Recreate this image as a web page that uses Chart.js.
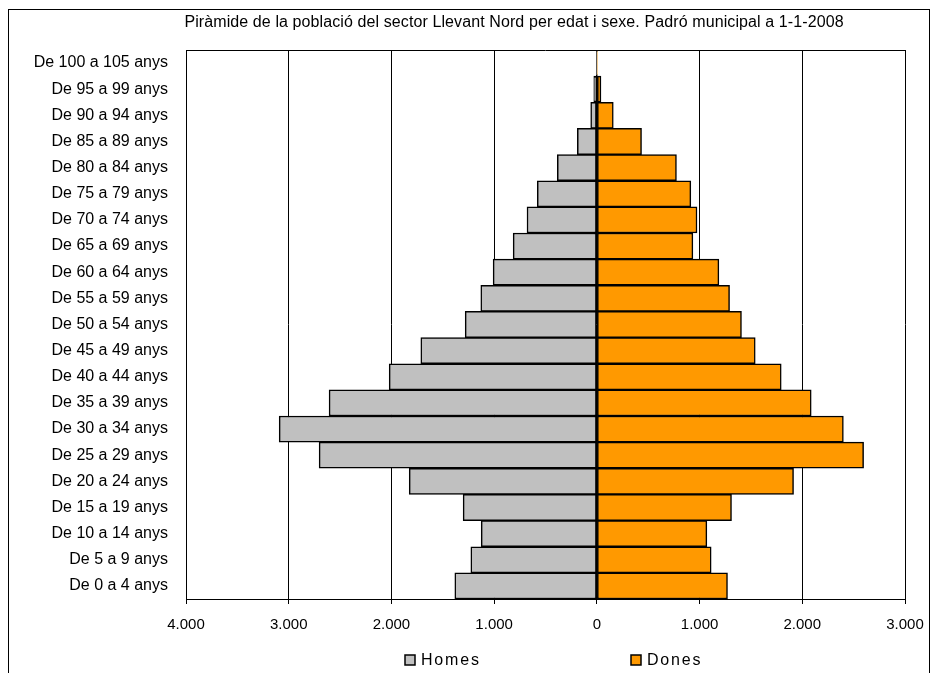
<!DOCTYPE html>
<html>
<head>
<meta charset="utf-8">
<script src="https://cdn.jsdelivr.net/npm/chart.js@4/dist/chart.umd.min.js"></script>
<style>
  html, body { margin: 0; padding: 0; background: #fff; }
  #wrap { width: 938px; height: 673px; position: relative; }
</style>
</head>
<body>
<div id="wrap"><canvas id="piramide" width="938" height="673"></canvas></div>
<script>
// Grups d'edat, de dalt a baix
const edats = [
  'De 100 a 105 anys', 'De 95 a 99 anys', 'De 90 a 94 anys', 'De 85 a 89 anys',
  'De 80 a 84 anys', 'De 75 a 79 anys', 'De 70 a 74 anys', 'De 65 a 69 anys',
  'De 60 a 64 anys', 'De 55 a 59 anys', 'De 50 a 54 anys', 'De 45 a 49 anys',
  'De 40 a 44 anys', 'De 35 a 39 anys', 'De 30 a 34 anys', 'De 25 a 29 anys',
  'De 20 a 24 anys', 'De 15 a 19 anys', 'De 10 a 14 anys', 'De 5 a 9 anys',
  'De 0 a 4 anys'
];
const homes = [5, 30, 60, 190, 385, 580, 680, 815, 1010, 1130, 1282, 1714,
               2022, 2607, 3093, 2704, 1827, 1302, 1126, 1227, 1383];
const dones = [2, 40, 160, 435, 775, 915, 975, 935, 1188, 1292, 1408, 1542,
               1795, 2087, 2400, 2597, 1915, 1311, 1071, 1113, 1272];
const ticksX = [-4000, -3000, -2000, -1000, 0, 1000, 2000, 3000];

const titol = 'Piràmide de la població del sector Llevant Nord per edat i sexe. Padró municipal a 1-1-2008';
const FONT = '"Liberation Sans", Arial, sans-serif';

function milers(v) {
  return String(Math.abs(v)).replace(/\B(?=(\d{3})+(?!\d))/g, '.');
}

// marc exterior, vora superior del gràfic, títol i llegenda
const extres = {
  id: 'extres',
  afterDraw(chart) {
    const ctx = chart.ctx;
    const a = chart.chartArea;
    ctx.save();
    ctx.strokeStyle = '#000';
    ctx.lineWidth = 1;
    ctx.strokeRect(8.5, 9.5, 921, 700);
    ctx.beginPath();
    ctx.moveTo(a.left, a.top + 0.5);
    ctx.lineTo(a.right, a.top + 0.5);
    ctx.stroke();

    ctx.fillStyle = '#000';
    ctx.font = '16px ' + FONT;
    ctx.letterSpacing = '0.1px';
    ctx.textAlign = 'center';
    ctx.textBaseline = 'middle';
    ctx.fillText(titol, 514, 23);

    ctx.font = '16px ' + FONT;
    ctx.letterSpacing = '1.8px';
    ctx.textAlign = 'left';
    const posicions = [405, 631];
    chart.data.datasets.forEach((ds, i) => {
      const x = posicions[i];
      ctx.fillStyle = ds.backgroundColor;
      ctx.fillRect(x, 655, 10, 10);
      ctx.strokeStyle = '#000';
      ctx.lineWidth = 1.5;
      ctx.strokeRect(x, 655, 10, 10);
      ctx.fillStyle = '#000';
      ctx.fillText(ds.label, x + 16, 661);
    });
    ctx.restore();
  }
};

new Chart(document.getElementById('piramide'), {
  type: 'bar',
  data: {
    labels: edats,
    datasets: [
      {
        label: 'Homes',
        data: homes.map(v => -v),
        backgroundColor: '#C0C0C0',
        borderColor: '#000',
        borderWidth: 1.5,
        borderSkipped: false
      },
      {
        label: 'Dones',
        data: dones,
        backgroundColor: '#FF9900',
        borderColor: '#000',
        borderWidth: 1.5,
        borderSkipped: false
      }
    ]
  },
  options: {
    indexAxis: 'y',
    responsive: false,
    maintainAspectRatio: false,
    animation: false,
    barPercentage: 1,
    categoryPercentage: 1,
    layout: { padding: { left: 0, top: 50, right: 33, bottom: 34 } },
    scales: {
      x: {
        type: 'linear',
        stacked: true,
        min: -4000,
        max: 3000,
        afterBuildTicks: s => { s.ticks = ticksX.map(v => ({ value: v })); },
        afterFit: s => { s.height = 40; },
        ticks: {
          callback: v => milers(v),
          color: '#000',
          font: { family: FONT, size: 15 },
          padding: 12,
          maxRotation: 0
        },
        grid: { color: '#000', lineWidth: 1, tickLength: 5, drawTicks: true },
        border: { color: '#000', width: 1 }
      },
      y: {
        stacked: true,
        afterFit: s => { s.width = 186; },
        ticks: {
          color: '#000',
          font: { family: FONT, size: 16 },
          padding: 18,
          autoSkip: false
        },
        grid: { display: false, drawTicks: false },
        border: { color: '#000', width: 1 }
      }
    },
    plugins: {
      legend: { display: false },
      title: { display: false },
      tooltip: { enabled: false }
    }
  },
  plugins: [extres]
});
</script>
</body>
</html>
